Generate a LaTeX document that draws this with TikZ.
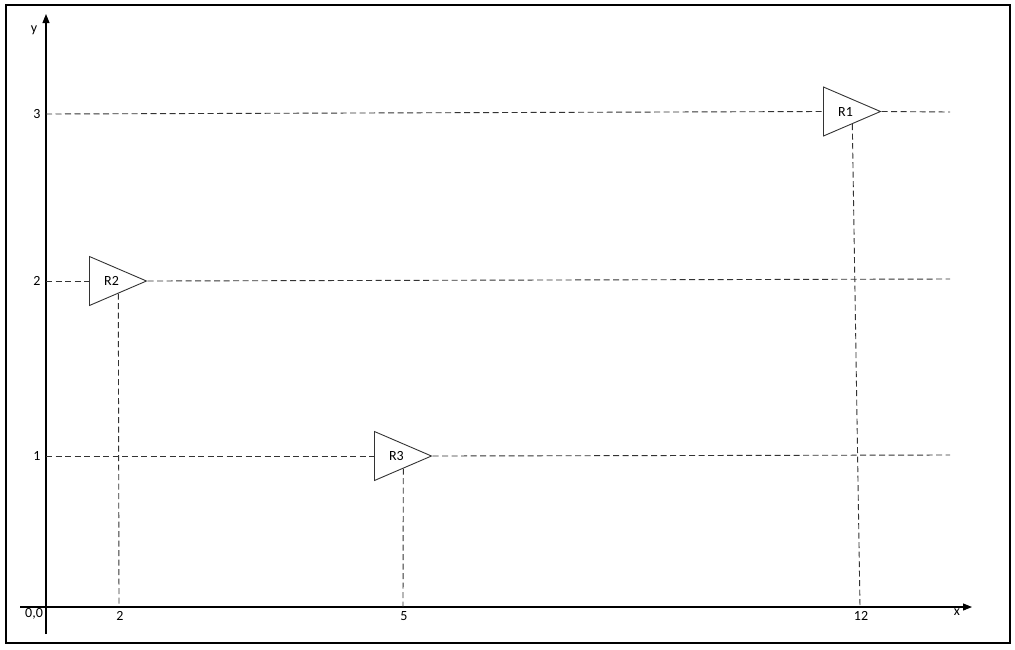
\documentclass[tikz,border=0pt]{standalone}
\usepackage{fontspec}
\setmainfont{Carlito}
\usetikzlibrary{shapes.geometric,arrows.meta}

\begin{document}
\begin{tikzpicture}[x=1pt, y=-1pt, >={Triangle[length=9pt,width=7pt]},
    font=\fontsize{14}{16}\selectfont,
    axis/.style={line width=1.1pt, ->},
    guide/.style={draw=black!80, line width=0.9pt, dash pattern=on 6pt off 3.5pt},
    rx/.style={isosceles triangle, isosceles triangle stretches, draw=black!80,
               line width=0.9pt, minimum width=49pt, minimum height=57pt,
               inner sep=0pt, anchor=west}]
    \useasboundingbox (0,0) rectangle (1015,649);
    \draw[line width=1.2pt] (6,5) rectangle (1010,643);

    % axes
    \coordinate (xs) at (20,607);
    \coordinate (xe) at (972,607);
    \coordinate (ys) at (46,634);
    \coordinate (ye) at (46,14);
    \draw[axis] (xs) -- (xe);
    \draw[axis] (ys) -- (ye);
    \node (xn) at (957,612) {x};
    \node (yn) at (34,30) {y};
    \node (on) at (34,614) {0,0};

    % receivers
    \foreach \r/\tx/\ty/\yv/\ly/\ey/\xt/\xv in
      {R1/823/111.5/3/114/112/860/12, R2/89/281/2/281/279/119/2, R3/374/456/1/456/455/403/5} {
      \node[rx] (\r) at (\tx,\ty) {\hspace*{8pt}\r};
      \coordinate (l\r) at (46,\ly);
      \coordinate (e\r) at (950,\ey);
      \coordinate (b\r) at (\xt,607);
      \node (yl\r) at (37,\ly) {\yv};
      \node (xl\r) at (\xt+1,616) {\xv};
      \draw[guide] (l\r) -- (\r.west);
      \draw[guide] (\r.apex) -- (e\r);
      \draw[guide] (\r.right side) -- (b\r);
    }
\end{tikzpicture}
\end{document}
